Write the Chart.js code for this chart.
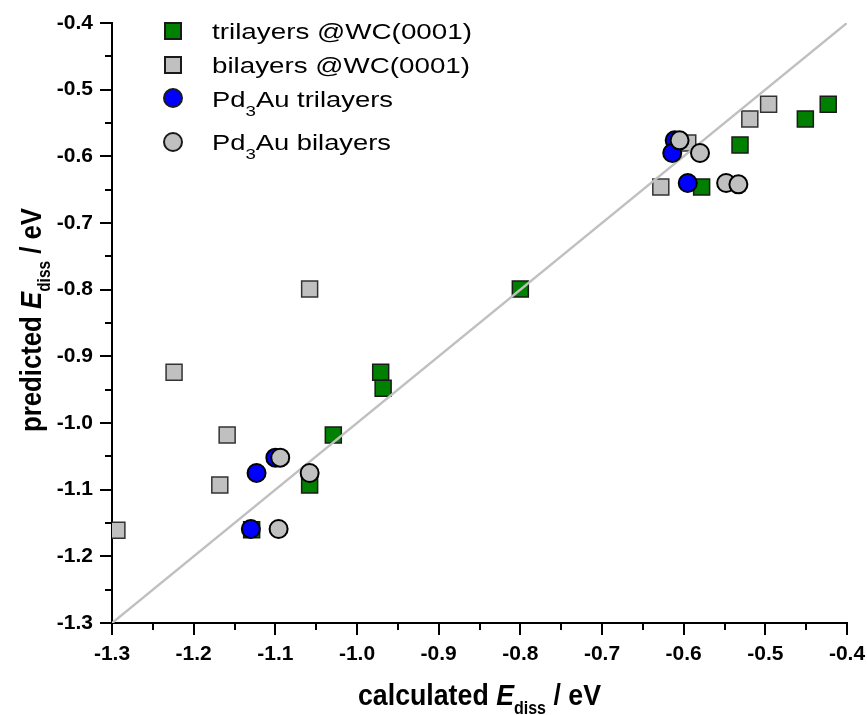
<!DOCTYPE html>
<html>
<head>
<meta charset="utf-8">
<script src="https://cdn.jsdelivr.net/npm/chart.js@4.4.0/dist/chart.umd.min.js"></script>
<style>
html, body { margin: 0; padding: 0; background: #fff; }
</style>
</head>
<body>
<canvas id="scatterChart" width="867" height="715"></canvas>
<script>
// calculated vs predicted dissociation energies (eV)
var triWC_x = [-0.423, -0.451, -0.531, -0.578, -0.800, -0.971, -0.968, -1.029, -1.058, -1.129];
var triWC_y = [-0.522, -0.544, -0.583, -0.646, -0.799, -0.924, -0.948, -1.018, -1.093, -1.160];

var biWC_x = [-0.496, -0.519, -0.595, -0.628, -1.058, -1.224, -1.159, -1.168, -1.294];
var biWC_y = [-0.522, -0.544, -0.580, -0.646, -0.799, -0.924, -1.018, -1.093, -1.161];

var triPd_x = [-0.611, -0.614, -0.595, -1.100, -1.123, -1.130];
var triPd_y = [-0.576, -0.595, -0.640, -1.052, -1.075, -1.159];

var biPd_x = [-0.605, -0.580, -0.548, -0.533, -1.094, -1.058, -1.096];
var biPd_y = [-0.576, -0.595, -0.640, -0.642, -1.052, -1.075, -1.159];

var parity = [-1.3, -0.4];

var FONT = "'Liberation Sans', Arial, sans-serif";

function pts(xs, ys) {
	return xs.map(function (x, i) { return { x: x, y: ys[i] }; });
}

function drawRuns(ctx, runs, x0, baseY, targetW, align) {
	var total = 0;
	runs.forEach(function (r) {
		ctx.font = r.font;
		r.w = ctx.measureText(r.t).width;
		total += r.w;
	});
	var sx = targetW ? targetW / total : 1;
	ctx.save();
	ctx.translate(align == 'center' ? x0 - total * sx / 2 : x0, baseY);
	ctx.scale(sx, 1);
	ctx.fillStyle = '#000';
	ctx.textBaseline = 'alphabetic';
	ctx.textAlign = 'left';
	var x = 0;
	runs.forEach(function (r) {
		ctx.font = r.font;
		ctx.fillText(r.t, x, r.dy || 0);
		x += r.w;
	});
	ctx.restore();
}

var extras = {
	id: 'extras',
	afterDraw: function (chart) {
		var ctx = chart.ctx;
		var xs = chart.scales.x, ys = chart.scales.y;
		var area = chart.chartArea;

		// minor ticks
		ctx.save();
		ctx.strokeStyle = '#000';
		ctx.lineWidth = 2;
		ctx.beginPath();
		for (var v = -1.25; v < -0.4; v += 0.1) {
			var px = Math.round(xs.getPixelForValue(v));
			ctx.moveTo(px, area.bottom);
			ctx.lineTo(px, area.bottom + 7);
			var py = Math.round(ys.getPixelForValue(v));
			ctx.moveTo(area.left, py);
			ctx.lineTo(area.left - 7, py);
		}
		ctx.stroke();
		ctx.restore();

		// axis titles
		var b30 = 'bold 30px ' + FONT;
		var bi30 = 'italic bold 30px ' + FONT;
		var b18 = 'bold 18px ' + FONT;
		drawRuns(ctx, [
			{ t: 'calculated ', font: b30 },
			{ t: 'E', font: bi30 },
			{ t: 'diss', font: b18, dy: 9 },
			{ t: ' / eV', font: b30 }
		], (area.left + area.right) / 2, 705, 243, 'center');

		ctx.save();
		ctx.translate(41, 320);
		ctx.rotate(-Math.PI / 2);
		drawRuns(ctx, [
			{ t: 'predicted ', font: b30 },
			{ t: 'E', font: bi30 },
			{ t: 'diss', font: b18, dy: 9 },
			{ t: ' / eV', font: b30 }
		], 0, 0, 224, 'center');
		ctx.restore();

		// legend
		var r22 = '22px ' + FONT;
		var r15 = '15px ' + FONT;
		var rows = [
			{ mark: 'sq', fill: '#008000', cy: 31, base: 39, w: 260, runs: [{ t: 'trilayers @WC(0001)', font: r22 }] },
			{ mark: 'sq', fill: '#c0c0c0', cy: 65, base: 73, w: 258, runs: [{ t: 'bilayers @WC(0001)', font: r22 }] },
			{ mark: 'ci', fill: '#0000ff', cy: 98, base: 107, w: 181, runs: [{ t: 'Pd', font: r22 }, { t: '3', font: r15, dy: 9 }, { t: 'Au trilayers', font: r22 }] },
			{ mark: 'ci', fill: '#c0c0c0', cy: 142, base: 150, w: 179, runs: [{ t: 'Pd', font: r22 }, { t: '3', font: r15, dy: 9 }, { t: 'Au bilayers', font: r22 }] }
		];
		rows.forEach(function (row) {
			ctx.save();
			ctx.fillStyle = row.fill;
			ctx.strokeStyle = '#1a1a1a';
			ctx.lineWidth = 2;
			ctx.beginPath();
			if (row.mark == 'sq') ctx.rect(173 - 8, row.cy - 8, 16, 16);
			else ctx.arc(173, row.cy, 9, 0, Math.PI * 2);
			ctx.fill();
			ctx.stroke();
			ctx.restore();
			drawRuns(ctx, row.runs, 212, row.base, row.w, 'left');
		});
	}
};

function axisOpts(fitFn) {
	return {
		type: 'linear',
		min: -1.3,
		max: -0.4,
		ticks: {
			stepSize: 0.1,
			color: '#000',
			padding: 7,
			maxRotation: 0,
			autoSkip: false,
			font: { family: FONT, size: 21, weight: 'bold' },
			callback: function (v) { return v.toFixed(1); }
		},
		grid: { drawOnChartArea: false, color: '#000', lineWidth: 2, tickLength: 12 },
		border: { display: true, color: '#000', width: 2 },
		afterFit: fitFn
	};
}

var ctxS = document.getElementById('scatterChart').getContext('2d');
var myScatter = new Chart(ctxS, {
	type: 'scatter',
	data: {
		datasets: [{
			label: 'trilayers @WC(0001)',
			data: pts(triWC_x, triWC_y),
			pointStyle: 'rect',
			pointRadius: 11.3,
			backgroundColor: '#008000',
			borderColor: '#1a1a1a',
			borderWidth: 1.5,
			order: 4
		}, {
			label: 'bilayers @WC(0001)',
			data: pts(biWC_x, biWC_y),
			pointStyle: 'rect',
			pointRadius: 11.3,
			backgroundColor: '#c0c0c0',
			borderColor: '#333',
			borderWidth: 1.5,
			order: 3
		}, {
			label: 'parity',
			data: pts(parity, parity),
			showLine: true,
			pointRadius: 0,
			borderColor: '#c0c0c0',
			borderWidth: 2.5,
			order: 2
		}, {
			label: 'Pd3Au trilayers',
			data: pts(triPd_x, triPd_y),
			pointStyle: 'circle',
			pointRadius: 9,
			backgroundColor: '#0000ff',
			borderColor: '#000',
			borderWidth: 2,
			order: 1
		}, {
			label: 'Pd3Au bilayers',
			data: pts(biPd_x, biPd_y),
			pointStyle: 'circle',
			pointRadius: 9,
			backgroundColor: '#c0c0c0',
			borderColor: '#000',
			borderWidth: 2,
			order: 0
		}]
	},
	options: {
		responsive: false,
		animation: false,
		layout: { padding: { top: 23, right: 20, left: 0, bottom: 0 } },
		plugins: { legend: { display: false }, tooltip: { enabled: false } },
		scales: {
			x: axisOpts(function (s) { s.height = 92; s.paddingLeft = 0; s.paddingRight = 0; }),
			y: axisOpts(function (s) { s.width = 112; s.paddingTop = 0; s.paddingBottom = 0; })
		}
	},
	plugins: [extras]
});
</script>
</body>
</html>
